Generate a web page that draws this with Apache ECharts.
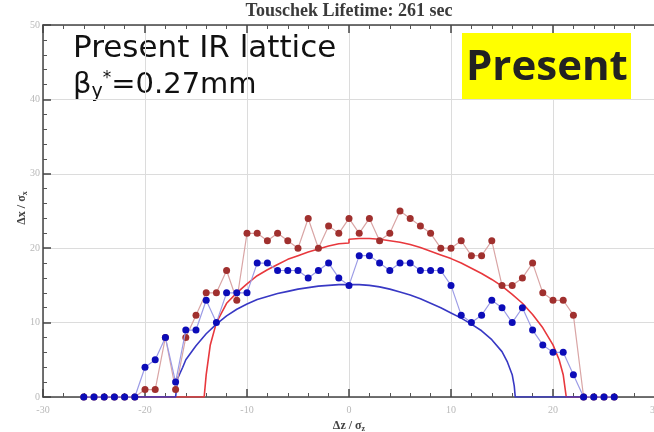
<!DOCTYPE html>
<html>
<head>
<meta charset="utf-8">
<script src="https://cdn.jsdelivr.net/npm/echarts@6/dist/echarts.min.js"></script>
<style>html,body{margin:0;padding:0;background:#fff}#c{width:654px;height:432px}</style>
</head>
<body>
<div id="c"></div>
<script>
// Scan positions (Δz/σz)
var scanX = [-26,-25,-24,-23,-22,-21,-20,-19,-18,-17,-16,-15,-14,-13,-12,-11,-10,-9,-8,-7,-6,-5,-4,-3,-2,-1,0,1,2,3,4,5,6,7,8,9,10,11,12,13,14,15,16,17,18,19,20,21,22,23,24,25,26];
// Red (dark red dots) aperture scan
var redScan = [0,0,0,0,0,0,1,1,8,1,8,11,14,14,17,13,22,22,21,22,21,20,24,20,23,22,24,22,24,21,22,25,24,23,22,20,20,21,19,19,21,15,15,16,18,14,13,13,11,0,0,0,0];
// Blue scan
var blueScan = [0,0,0,0,0,0,4,5,8,2,9,9,13,10,14,14,14,18,18,17,17,17,16,17,18,16,15,19,19,18,17,18,18,17,17,17,15,11,10,11,13,12,10,12,9,7,6,6,3,0,0,0,0];
// Red smooth curve
var redCurveX = [-26,-14.2,-14.0,-13.6,-13,-12,-11,-10,-9,-8,-7,-6,-5,-4,-3,-2,-1,0,0,1,2,3,4,5,6,7,8,9,10,11,12,13,14,15,16,17,18,19,20,20.6,21,21.3,26];
var redCurveY = [0,0,3,7,10,12.6,14,15.2,16.3,17.1,17.8,18.5,19,19.5,19.9,20.3,20.6,20.7,21.2,21.3,21.3,21.2,21,20.8,20.5,20.1,19.6,19.1,18.6,18,17.3,16.6,15.8,14.9,13.8,12.6,11.1,9.3,7,5,3,0,0];
// Blue smooth curve
var blueCurveX = [-26,-17,-16.8,-16.3,-16,-15,-14,-13,-12,-11,-10,-9,-8,-7,-6,-5,-4,-3,-2,-1,0,1,2,3,4,5,6,7,8,9,10,11,12,13,14,15,15.5,16,16.2,16.3,26];
var blueCurveY = [0,0,2.5,4,5,6.9,8.5,9.8,10.9,11.8,12.5,13.1,13.5,13.9,14.2,14.5,14.7,14.9,15,15.1,15.1,15.1,15,14.8,14.5,14.1,13.7,13.2,12.6,12,11.3,10.6,9.8,8.9,7.7,6.1,4.8,3,1.5,0,0];
var xTicks = [-30,-20,-10,0,10,20,30];
var yTicks = [0,10,20,30,40,50];

function pairs(xs, ys){ return xs.map(function(x,i){ return [x, ys[i]]; }); }

var chart = echarts.init(document.getElementById('c'));
var axCommon = {
  type:'value', min:xTicks[0], max:xTicks[xTicks.length-1], interval:10,
  axisLine:{show:true, onZero:false, lineStyle:{color:'#444', width:1.5}},
  axisTick:{show:true, inside:true, length:8, lineStyle:{color:'#444', width:1.5}},
  minorTick:{show:true, splitNumber:5, length:4, lineStyle:{color:'#555', width:1}}
};
var nameRich = {a:{fontFamily:'Liberation Serif', fontWeight:'bold', fontSize:12, fill:'#444', color:'#444'}, s:{fontFamily:'Liberation Serif', fontWeight:'bold', fontSize:8, fill:'#444', color:'#444', padding:[6,0,0,0]}};
var option = {
  animation:false,
  backgroundColor:'#fff',
  grid:{left:43, top:25, width:612, height:372, containLabel:false, outerBoundsMode:'none'},
  xAxis:[
    Object.assign({}, axCommon, {
      position:'bottom',
      axisLabel:{show:true, color:'#b8b8b8', fontSize:10, fontFamily:'Liberation Serif', margin:8},
      splitLine:{show:true, lineStyle:{color:'#dcdcdc', width:1}},
      name:'{a|\u0394z / \u03c3}{s|z}', nameLocation:'middle', nameGap:18,
      nameTextStyle:{rich:nameRich}
    }),
    Object.assign({}, axCommon, {
      position:'top', axisLabel:{show:false}, splitLine:{show:false}
    })
  ],
  yAxis:[{
    type:'value', min:yTicks[0], max:yTicks[yTicks.length-1], interval:10,
    axisLine:{show:true, onZero:false, lineStyle:{color:'#444', width:1.5}},
    axisTick:{show:true, inside:true, length:8, lineStyle:{color:'#444', width:1.5}},
    minorTick:{show:true, splitNumber:5, length:4, lineStyle:{color:'#555', width:1}},
    axisLabel:{show:true, color:'#b8b8b8', fontSize:10, fontFamily:'Liberation Serif', margin:3},
    splitLine:{show:true, lineStyle:{color:'#dcdcdc', width:1}}
  }],
  series:[
    {type:'line', data:pairs(redCurveX, redCurveY), showSymbol:false, symbol:'none', lineStyle:{color:'#e8383d', width:1.6}, z:2},
    {type:'line', data:pairs(blueCurveX, blueCurveY), showSymbol:false, symbol:'none', lineStyle:{color:'#3838c4', width:1.6}, z:2},
    {type:'line', data:pairs(scanX, redScan), symbol:'circle', symbolSize:7, lineStyle:{color:'#d9a5a5', width:1.2}, itemStyle:{color:'#a0302e'}, z:3},
    {type:'line', data:pairs(scanX, blueScan), symbol:'circle', symbolSize:7, lineStyle:{color:'#9c9ce6', width:1.2}, itemStyle:{color:'#0c0cb8'}, z:4}
  ],
  graphic:[
    {type:'text', x:349, y:2, style:{text:'Touschek Lifetime: 261 sec', font:'bold 18px "Liberation Serif"', fill:'#3a3a3a', align:'center'}},
    {type:'text', x:22, y:208, rotation:Math.PI/2, style:{text:'{a|\u0394x / \u03c3}{s|x}', rich:nameRich, align:'center', verticalAlign:'middle'}},
    {type:'text', left:73, top:33, style:{text:'Present IR lattice', font:'31px "DejaVu Sans"', fill:'#111'}},
    {type:'text', left:73, top:70, style:{
      text:'{b|\u03b2}{y|y}{s|*}{b|=0.27mm}',
      rich:{
        b:{font:'29px "DejaVu Sans"', fill:'#111'},
        y:{font:'19px "DejaVu Sans"', fill:'#111', padding:[14,0,0,0]},
        s:{font:'17px "DejaVu Sans"', fill:'#111', padding:[0,0,14,0]}
      }}},
    {type:'rect', shape:{x:462, y:33, width:169, height:66}, style:{fill:'#ffff00'}, z:10},
    {type:'text', left:466, top:47, z:11, style:{text:'Present', font:'bold 42px "Open Sans"', fill:'#222'}}
  ]
};
chart.setOption(option);
</script>
</body>
</html>
